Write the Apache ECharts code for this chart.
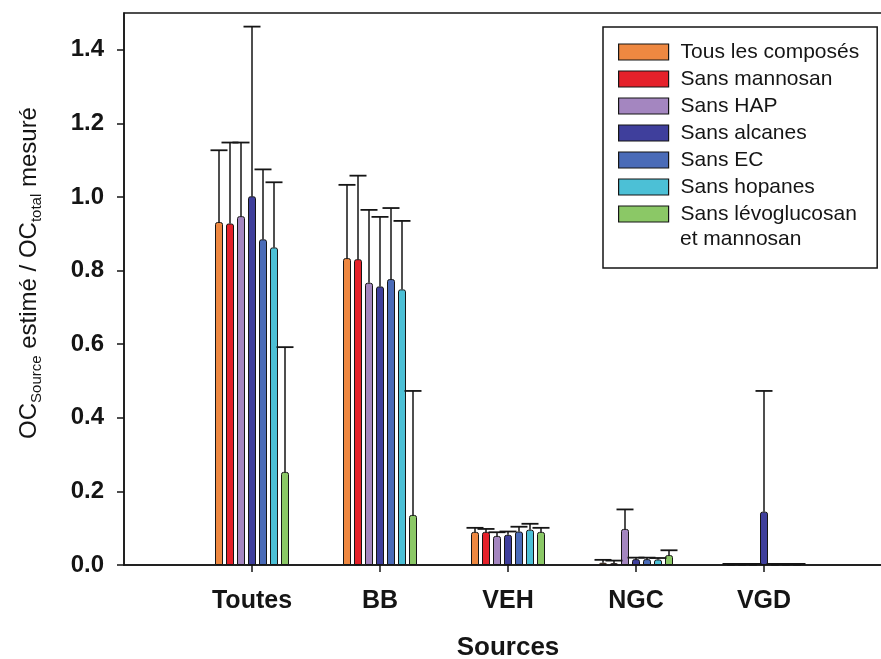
<!DOCTYPE html>
<html><head><meta charset="utf-8">
<script src="https://cdn.jsdelivr.net/npm/echarts@6/dist/echarts.min.js"></script>
<style>html,body{margin:0;padding:0;background:#fff}#c{width:881px;height:659px}</style>
</head><body><div id="c"></div>
<script>
// ---- data ----
const categories = ['Toutes', 'BB', 'VEH', 'NGC', 'VGD'];
const categoryPositions = [1, 2, 3, 4, 5];
const seriesNames = ['Tous les composés', 'Sans mannosan', 'Sans HAP', 'Sans alcanes', 'Sans EC', 'Sans hopanes', 'Sans lévoglucosan\net mannosan'];
const tousLesComposes    = [0.932, 0.834, 0.090, 0.006, 0.001];
const tousLesComposesErr = [1.127, 1.033, 0.101, 0.014, 0.003];
const sansMannosan       = [0.928, 0.831, 0.090, 0.005, 0.001];
const sansMannosanErr    = [1.148, 1.058, 0.098, 0.012, 0.003];
const sansHAP            = [0.948, 0.767, 0.079, 0.098, 0.001];
const sansHAPErr         = [1.148, 0.965, 0.089, 0.151, 0.003];
const sansAlcanes        = [1.002, 0.757, 0.082, 0.016, 0.145];
const sansAlcanesErr     = [1.463, 0.946, 0.091, 0.020, 0.473];
const sansEC             = [0.885, 0.777, 0.091, 0.016, 0.001];
const sansECErr          = [1.075, 0.970, 0.104, 0.020, 0.003];
const sansHopanes        = [0.863, 0.749, 0.096, 0.015, 0.001];
const sansHopanesErr     = [1.040, 0.935, 0.112, 0.019, 0.003];
const sansLevoMannosan   = [0.253, 0.136, 0.090, 0.027, 0.001];
const sansLevoMannosanErr= [0.592, 0.473, 0.101, 0.040, 0.003];
const yTicks = [0, 0.2, 0.4, 0.6, 0.8, 1.0, 1.2, 1.4];

// ---- style ----
const values = [tousLesComposes, sansMannosan, sansHAP, sansAlcanes, sansEC, sansHopanes, sansLevoMannosan];
const errors = [tousLesComposesErr, sansMannosanErr, sansHAPErr, sansAlcanesErr, sansECErr, sansHopanesErr, sansLevoMannosanErr];
const colors = ['#EE8841', '#E5212A', '#A486C0', '#3F3F9C', '#4A6BB8', '#4CC0D6', '#8BC866'];
const FONT = '"Liberation Sans", Arial, sans-serif';
const INK = '#151515';
const BAR_W = 8, BAR_GAP = 3, PITCH = BAR_W + BAR_GAP, CAP = 17;

const chart = echarts.init(document.getElementById('c'), null, {renderer: 'canvas'});

const series = [];
values.forEach((vals, k) => {
  series.push({
    type: 'bar', name: seriesNames[k],
    barWidth: BAR_W, barGap: (BAR_GAP / BAR_W * 100) + '%',
    itemStyle: {color: colors[k], borderColor: INK, borderWidth: 1, borderRadius: [2, 2, 0, 0]},
    data: categoryPositions.map((x, i) => [x, vals[i]]),
    z: 2
  });
});
errors.forEach((errs, k) => {
  series.push({
    type: 'custom',
    data: categoryPositions.map((x, i) => [x, values[k][i], errs[i]]),
    z: 3,
    renderItem: function (params, api) {
      const x = api.value(0), v = api.value(1), e = api.value(2);
      const a = api.coord([x, v]), b = api.coord([x, e]);
      const cx = a[0] + (k - 3) * PITCH;
      return {type: 'group', children: [
        {type: 'line', shape: {x1: cx, y1: a[1], x2: cx, y2: b[1]}, style: {stroke: INK, lineWidth: 1.5}},
        {type: 'line', shape: {x1: cx - CAP / 2, y1: b[1], x2: cx + CAP / 2, y2: b[1]}, style: {stroke: INK, lineWidth: 1.8}}
      ]};
    }
  });
});

const lastName = seriesNames[seriesNames.length - 1].split('\n');

const option = {
  backgroundColor: '#fff',
  animation: false,
  textStyle: {fontFamily: FONT},
  grid: {left: 124, width: 768, top: 13, bottom: 94, outerBoundsMode: 'none', containLabel: false,
    show: true, borderColor: INK, borderWidth: 1.5, backgroundColor: 'transparent'},
  legend: {
    orient: 'vertical', left: 603, top: 27,
    padding: [12.5, 18, 41.5, 15],
    borderColor: INK, borderWidth: 1.5, backgroundColor: '#fff',
    itemWidth: 50, itemHeight: 16, itemGap: 2, icon: 'rect',
    itemStyle: {borderColor: INK, borderWidth: 1.2},
    selectedMode: false,
    textStyle: {fontSize: 21, lineHeight: 25, color: INK, fontFamily: FONT, padding: [0, 0, 0, 7]},
    formatter: n => n.split('\n')[0],
    data: seriesNames
  },
  graphic: [{
    type: 'text', left: 680, top: 227, z: 100,
    style: {text: lastName[1] || '', font: '21px "Liberation Sans", Arial, sans-serif', fill: INK, lineHeight: 25}
  }],
  xAxis: {
    type: 'value', min: 0, max: 6, interval: 1,
    name: 'Sources', nameLocation: 'middle', nameGap: 70,
    nameTextStyle: {fontSize: 26, fontWeight: 'bold', color: INK, fontFamily: FONT},
    axisLine: {show: true, lineStyle: {color: INK, width: 1.5}},
    axisTick: {show: true, inside: false, length: 7, lineStyle: {color: INK, width: 1.5}, customValues: categoryPositions},
    axisLabel: {customValues: categoryPositions, margin: 24, fontSize: 25, fontWeight: 'bold', color: INK, fontFamily: FONT,
      formatter: v => { const i = categoryPositions.indexOf(v); return i >= 0 ? categories[i] : ''; }},
    splitLine: {show: false}
  },
  yAxis: {
    type: 'value', min: 0, max: 1.5, interval: 0.2,
    name: '{m|OC}{s|Source}{m| estimé / OC}{s|total}{m| mesuré}',
    nameLocation: 'middle', nameRotate: 90, nameGap: 80,
    nameTextStyle: {color: INK, fontFamily: FONT, padding: [0, 0, 0, 32], rich: {
      m: {fontSize: 24, lineHeight: 30, color: INK, fontFamily: FONT},
      s: {fontSize: 15, lineHeight: 16, verticalAlign: 'bottom', color: INK, fontFamily: FONT}
    }},
    axisLine: {show: true, lineStyle: {color: INK, width: 1.5}},
    axisTick: {show: true, inside: false, length: 7, lineStyle: {color: INK, width: 1.5}, customValues: yTicks},
    axisLabel: {customValues: yTicks, margin: 20, fontSize: 24, fontWeight: 'bold', color: INK, fontFamily: FONT,
      formatter: v => v.toFixed(1)},
    splitLine: {show: false}
  },
  series: series
};
chart.setOption(option);
</script></body></html>
